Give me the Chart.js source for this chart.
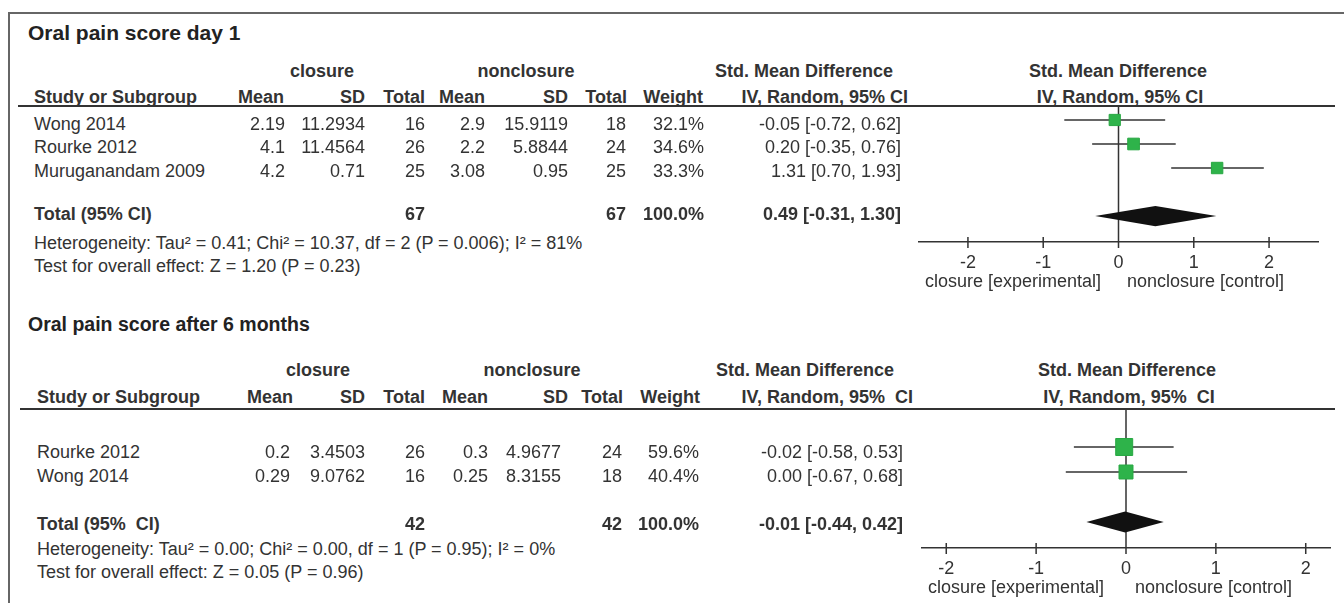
<!DOCTYPE html>
<html>
<head>
<meta charset="utf-8">
<script src="https://cdn.jsdelivr.net/npm/chart.js@4.4.1/dist/chart.umd.min.js"></script>
<style>
  html, body { margin: 0; padding: 0; background: #fff; }
  body { width: 1344px; height: 603px; position: relative; overflow: hidden;
         font-family: "Liberation Sans", Arial, sans-serif; color: #333; }
  .t { position: absolute; white-space: pre; }
  .rule { position: absolute; background: #333; }
  canvas { position: absolute; }
</style>
</head>
<body>
<div class="rule" style="left:8px;top:12px;width:1336px;height:1.5px;background:#666"></div>
<div class="rule" style="left:8px;top:12px;width:1.5px;height:591px;background:#666"></div>
<canvas id="plotDay1" width="444" height="175" style="left:900px;top:107px"></canvas>
<canvas id="plot6m" width="444" height="178" style="left:900px;top:410px"></canvas>
<script>
// ---------- Oral pain score day 1 ----------
const day1Studies    = ['Wong 2014', 'Rourke 2012', 'Muruganandam 2009'];
const day1ClosMean   = [2.19, 4.1, 4.2];
const day1ClosSD     = [11.2934, 11.4564, 0.71];
const day1ClosN      = [16, 26, 25];
const day1NonMean    = [2.9, 2.2, 3.08];
const day1NonSD      = [15.9119, 5.8844, 0.95];
const day1NonN       = [18, 24, 25];
const day1Weight     = [32.1, 34.6, 33.3];
const day1SMD        = [-0.05, 0.20, 1.31];
const day1Low        = [-0.72, -0.35, 0.70];
const day1High       = [0.62, 0.76, 1.93];
const day1TotalN     = [67, 67];
const day1Pooled     = [0.49, -0.31, 1.30];   // estimate, lower, upper
const day1Het        = 'Heterogeneity: Tau\u00B2 = 0.41; Chi\u00B2 = 10.37, df = 2 (P = 0.006); I\u00B2 = 81%';
const day1Test       = 'Test for overall effect: Z = 1.20 (P = 0.23)';

// ---------- Oral pain score after 6 months ----------
const m6Studies      = ['Rourke 2012', 'Wong 2014'];
const m6ClosMean     = [0.2, 0.29];
const m6ClosSD       = [3.4503, 9.0762];
const m6ClosN        = [26, 16];
const m6NonMean      = [0.3, 0.25];
const m6NonSD        = [4.9677, 8.3155];
const m6NonN         = [24, 18];
const m6Weight       = [59.6, 40.4];
const m6SMD          = [-0.02, 0.00];
const m6Low          = [-0.58, -0.67];
const m6High         = [0.53, 0.68];
const m6TotalN       = [42, 42];
const m6Pooled       = [-0.01, -0.44, 0.42];
const m6Het          = 'Heterogeneity: Tau\u00B2 = 0.00; Chi\u00B2 = 0.00, df = 1 (P = 0.95); I\u00B2 = 0%';
const m6Test         = 'Test for overall effect: Z = 0.05 (P = 0.96)';

// shared axis ticks and side labels
const axisTicks      = [-2, -1, 0, 1, 2];
const favoursLeft    = 'closure [experimental]';
const favoursRight   = 'nonclosure [control]';

// ---------- text helpers ----------
function put(text, x, y, opt = {}) {
  const d = document.createElement('div');
  d.className = 't';
  d.textContent = text;
  const size = opt.size || 18;
  const lh = size * 1.12;
  d.style.fontSize = size + 'px';
  d.style.lineHeight = lh + 'px';
  d.style.top = (y - lh / 2) + 'px';
  if (opt.bold) d.style.fontWeight = 'bold';
  if (opt.color) d.style.color = opt.color;
  if (opt.align === 'right') d.style.right = (1344 - x) + 'px';
  else if (opt.align === 'center') { d.style.left = x + 'px'; d.style.transform = 'translateX(-50%)'; }
  else d.style.left = x + 'px';
  document.body.appendChild(d);
}
function rule(x1, x2, y, h) {
  const d = document.createElement('div');
  d.className = 'rule';
  d.style.left = x1 + 'px'; d.style.width = (x2 - x1) + 'px';
  d.style.top = y + 'px'; d.style.height = h + 'px';
  document.body.appendChild(d);
}
const ci = (e, l, h) => `${e.toFixed(2)} [${l.toFixed(2)}, ${h.toFixed(2)}]`;

function drawTable(p) {
  const R = { align: 'right' }, RB = { align: 'right', bold: true }, C = { align: 'center', bold: true };
  put(p.title, 28, p.y.title, { bold: true, size: p.titleSize, color: '#222' });
  put('closure', p.x.closure, p.y.group, C);
  put('nonclosure', p.x.nonclosure, p.y.group, C);
  put('Std. Mean Difference', p.x.smdHead, p.y.group, C);
  put('Std. Mean Difference', p.x.plotHead, p.y.group, C);
  put('Study or Subgroup', p.x.name, p.y.head, { bold: true });
  put('Mean', p.h.cMean, p.y.head, RB);
  put('SD', p.h.cSD, p.y.head, RB);
  put('Total', p.h.cN, p.y.head, RB);
  put('Mean', p.h.nMean, p.y.head, RB);
  put('SD', p.h.nSD, p.y.head, RB);
  put('Total', p.h.nN, p.y.head, RB);
  put('Weight', p.h.wt, p.y.head, RB);
  put(p.ciHead, p.h.ci, p.y.head, RB);
  put(p.ciHead, p.x.plotHead2, p.y.head, C);
  rule(p.x.ruleL, 1335, p.y.rule, 2);

  p.studies.forEach((s, i) => {
    const y = p.y.rows[i];
    put(s, p.x.name, y);
    put(String(p.cMean[i]), p.v.cMean, y, R);
    put(String(p.cSD[i]), p.v.cSD, y, R);
    put(String(p.cN[i]), p.v.cN, y, R);
    put(String(p.nMean[i]), p.v.nMean, y, R);
    put(String(p.nSD[i]), p.v.nSD, y, R);
    put(String(p.nN[i]), p.v.nN, y, R);
    put(p.weight[i].toFixed(1) + '%', p.v.wt, y, R);
    put(ci(p.smd[i], p.lo[i], p.hi[i]), p.v.ci, y, R);
  });

  put(p.totalLabel, p.x.name, p.y.total, { bold: true });
  put(String(p.totalN[0]), p.v.cN, p.y.total, RB);
  put(String(p.totalN[1]), p.v.nN, p.y.total, RB);
  put('100.0%', p.v.wt, p.y.total, RB);
  put(ci(p.pooled[0], p.pooled[1], p.pooled[2]), p.v.ci, p.y.total, RB);
  put(p.het, p.x.name, p.y.het);
  put(p.test, p.x.name, p.y.test);
  put(favoursLeft, p.x.favL, p.y.fav);
  put(favoursRight, p.x.favR, p.y.fav);
}

drawTable({
  title: 'Oral pain score day 1', titleSize: 21, ciHead: 'IV, Random, 95% CI', totalLabel: 'Total (95% CI)',
  studies: day1Studies, cMean: day1ClosMean, cSD: day1ClosSD, cN: day1ClosN,
  nMean: day1NonMean, nSD: day1NonSD, nN: day1NonN, weight: day1Weight,
  smd: day1SMD, lo: day1Low, hi: day1High, totalN: day1TotalN, pooled: day1Pooled,
  het: day1Het, test: day1Test,
  y: { title: 33, group: 71, head: 97, rule: 105, rows: [124, 147, 171], total: 214, het: 243, test: 266, fav: 281 },
  x: { name: 34, closure: 322, nonclosure: 526, smdHead: 804, plotHead: 1118, plotHead2: 1120, ruleL: 18, favL: 925, favR: 1127 },
  h: { cMean: 284, cSD: 365, cN: 425, nMean: 485, nSD: 568, nN: 627, wt: 703, ci: 908 },
  v: { cMean: 285, cSD: 365, cN: 425, nMean: 485, nSD: 568, nN: 626, wt: 704, ci: 901 }
});

drawTable({
  title: 'Oral pain score after 6 months', titleSize: 19.5, ciHead: 'IV, Random, 95%  CI', totalLabel: 'Total (95%  CI)',
  studies: m6Studies, cMean: m6ClosMean, cSD: m6ClosSD, cN: m6ClosN,
  nMean: m6NonMean, nSD: m6NonSD, nN: m6NonN, weight: m6Weight,
  smd: m6SMD, lo: m6Low, hi: m6High, totalN: m6TotalN, pooled: m6Pooled,
  het: m6Het, test: m6Test,
  y: { title: 325, group: 370, head: 397, rule: 408, rows: [452, 476], total: 524, het: 549, test: 572, fav: 587 },
  x: { name: 37, closure: 318, nonclosure: 532, smdHead: 805, plotHead: 1127, plotHead2: 1129, ruleL: 20, favL: 928, favR: 1135 },
  h: { cMean: 293, cSD: 365, cN: 425, nMean: 488, nSD: 568, nN: 623, wt: 700, ci: 913 },
  v: { cMean: 290, cSD: 365, cN: 425, nMean: 488, nSD: 561, nN: 622, wt: 699, ci: 903 }
});

// ---------- forest plots ----------
const forestDecor = {
  id: 'forestDecor',
  beforeDatasetsDraw(chart) {
    const { ctx, chartArea: a, scales: { x } } = chart;
    ctx.save();
    ctx.strokeStyle = '#333';
    ctx.lineWidth = 1.5;
    ctx.beginPath();
    const x0 = x.getPixelForValue(0);
    ctx.moveTo(x0, a.top); ctx.lineTo(x0, a.bottom);
    x.ticks.forEach(t => {
      const px = x.getPixelForValue(t.value);
      ctx.moveTo(px, a.bottom - 5); ctx.lineTo(px, a.bottom + 6);
    });
    ctx.stroke();
    ctx.restore();
  },
  afterDatasetsDraw(chart, args, opts) {
    const { ctx, scales: { x, y } } = chart;
    const [est, lo, hi] = opts.pooled;
    const yc = y.getPixelForValue(opts.row);
    const h = Math.abs(y.getPixelForValue(opts.row + 0.42) - yc);
    ctx.save();
    ctx.fillStyle = '#111';
    ctx.beginPath();
    ctx.moveTo(x.getPixelForValue(lo), yc);
    ctx.lineTo(x.getPixelForValue(est), yc - h);
    ctx.lineTo(x.getPixelForValue(hi), yc);
    ctx.lineTo(x.getPixelForValue(est), yc + h);
    ctx.closePath();
    ctx.fill();
    ctx.restore();
  }
};

function forest(id, smd, lo, hi, weight, pooled, cfg) {
  const squares = {
    data: smd.map((v, i) => ({ x: v, y: i })),
    pointStyle: 'rect',
    pointRadius: weight.map(w => cfg.boxScale * Math.sqrt(w) / Math.SQRT2),
    pointHoverRadius: weight.map(w => cfg.boxScale * Math.sqrt(w) / Math.SQRT2),
    backgroundColor: '#2eb34a',
    borderColor: '#28a843',
    borderWidth: 1
  };
  const whiskers = smd.map((_, i) => ({
    data: [{ x: lo[i], y: i }, { x: hi[i], y: i }],
    showLine: true,
    borderColor: '#333',
    borderWidth: 1.5,
    pointRadius: 0,
    pointHoverRadius: 0
  }));
  return new Chart(document.getElementById(id), {
    type: 'scatter',
    data: { datasets: [squares, ...whiskers] },
    options: {
      responsive: false,
      devicePixelRatio: 1,
      animation: false,
      events: [],
      layout: { autoPadding: false, padding: { left: cfg.padL, right: cfg.padR, top: 0, bottom: 0 } },
      plugins: {
        legend: { display: false },
        tooltip: { enabled: false },
        forestDecor: { pooled: pooled, row: cfg.totalRow }
      },
      scales: {
        x: {
          type: 'linear', min: cfg.xMin, max: cfg.xMax,
          afterBuildTicks: s => { s.ticks = axisTicks.map(v => ({ value: v })); },
          afterFit: s => { s.height = cfg.axisH; },
          grid: { display: true, drawOnChartArea: false, drawTicks: false },
          border: { display: true, color: '#333', width: 1.5 },
          ticks: {
            color: '#333', padding: 10, autoSkip: false, maxRotation: 0,
            font: { family: 'Liberation Sans', size: 18 },
            callback: v => String(v)
          }
        },
        y: { type: 'linear', reverse: true, min: cfg.yMin, max: cfg.yMax, display: false }
      }
    },
    plugins: [forestDecor]
  });
}

forest('plotDay1', day1SMD, day1Low, day1High, day1Weight, day1Pooled,
  { xMin: -2.65, xMax: 2.65, yMin: -0.54, yMax: 5.08, padL: 19, padR: 26, axisH: 40, totalRow: 4, boxScale: 1.98 });
forest('plot6m', m6SMD, m6Low, m6High, m6Weight, m6Pooled,
  { xMin: -2.27, xMax: 2.27, yMin: -1.48, yMax: 4.04, padL: 22, padR: 14, axisH: 40, totalRow: 3, boxScale: 2.2 });
</script>
</body>
</html>
